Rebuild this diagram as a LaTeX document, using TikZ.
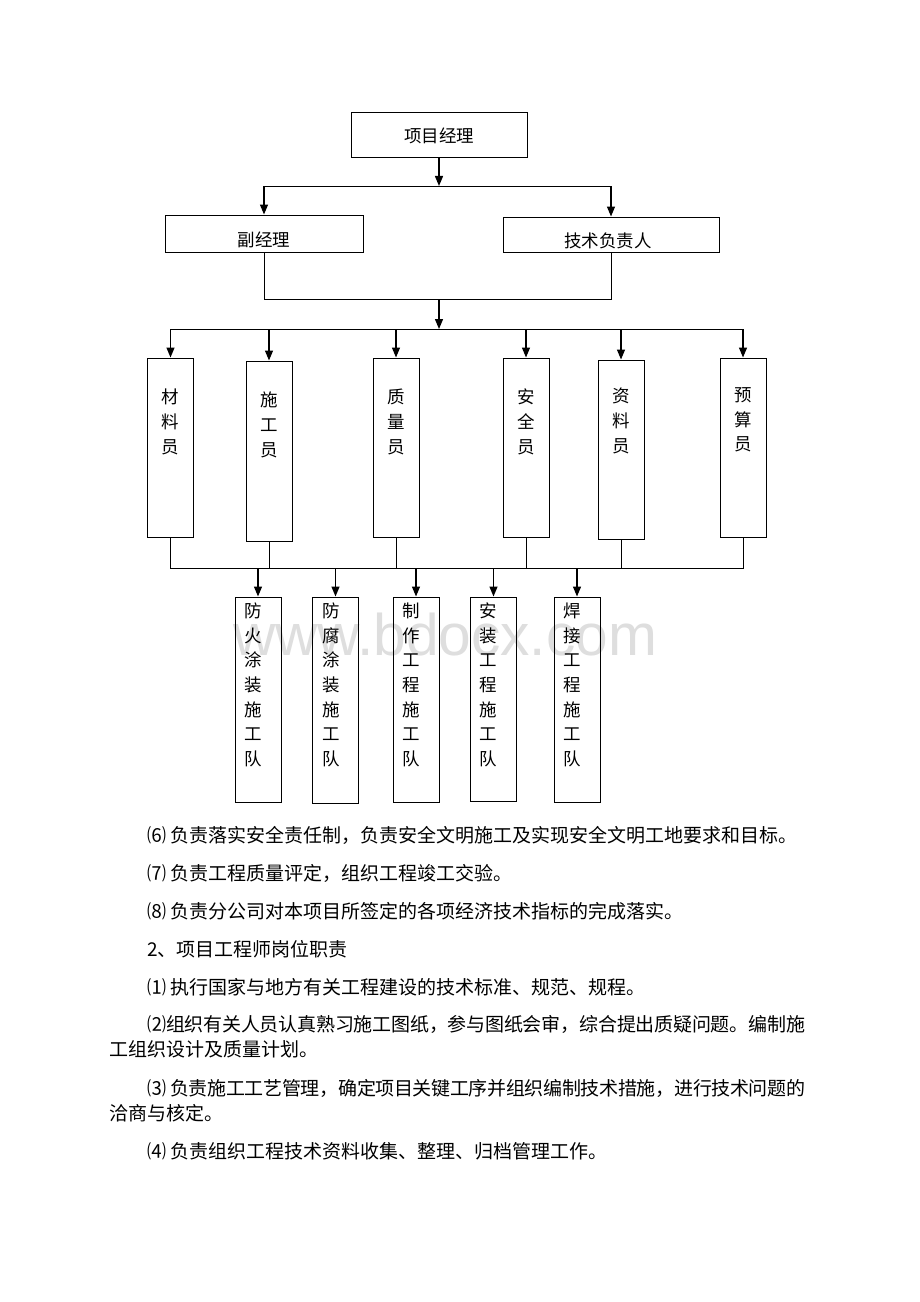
\documentclass[tikz,border=0pt]{standalone}
\usepackage{fontspec}
\setsansfont{Liberation Sans}
\newfontfamily\cjk{Noto Sans CJK SC}
\usetikzlibrary{arrows.meta}
\XeTeXlinebreaklocale "zh"
\XeTeXlinebreakskip=0pt plus 1pt minus 1pt
\def\px{0.75pt}

\begin{document}
\begin{tikzpicture}[x=\px, y=-\px,
    box/.style={draw, line width=0.75pt, inner sep=0pt},
    lbl/.style={inner sep=0pt, font=\cjk\fontsize{13.1}{16}\selectfont},
    vlbl/.style={inner sep=0pt, align=center, font=\cjk\fontsize{13.1}{18.5}\selectfont},
    wire/.style={line width=0.75pt},
    arr/.style={line width=1pt, -{Triangle[width=6pt,length=7.5pt]}},
    para/.style={anchor=north west, inner sep=0pt, text width=696*\px, align=justify,
      font=\cjk\fontsize{14.25}{18.75}\selectfont}]
      \fill[white] (0,0) rectangle (920,1302);
      \useasboundingbox (0,0) rectangle (920,1302);
      \node[anchor=base west, inner sep=0pt, text=black!13, font=\sffamily\fontsize{44}{44}\selectfont] (mark) at (233,655) {www.bdocx.com};
      \node[box, minimum width=176*\px, minimum height=45*\px] (pm) at (439,135.5) {};
      \node[lbl] (pm-t) at (439,136) {项目经理};
      \node[box, minimum width=198*\px, minimum height=37*\px] (dep) at (264,233.5) {};
      \node[lbl] (dep-t) at (264,240) {副经理};
      \node[box, minimum width=216*\px, minimum height=35*\px] (tech) at (611,234.5) {};
      \node[lbl] (tech-t) at (608,241) {技术负责人};
      \node[box, minimum width=46*\px, minimum height=179*\px] (s1) at (170.5,447.5) {};
      \node[vlbl] (s1-t) at (170.5,422) {材\\料\\员};
      \node[box, minimum width=46*\px, minimum height=180*\px] (s2) at (269,451) {};
      \node[vlbl] (s2-t) at (269,425) {施\\工\\员};
      \node[box, minimum width=46*\px, minimum height=179*\px] (s3) at (396,447.5) {};
      \node[vlbl] (s3-t) at (396,422) {质\\量\\员};
      \node[box, minimum width=46*\px, minimum height=179*\px] (s4) at (526,447.5) {};
      \node[vlbl] (s4-t) at (526,422) {安\\全\\员};
      \node[box, minimum width=46*\px, minimum height=179*\px] (s5) at (621,449.5) {};
      \node[vlbl] (s5-t) at (621,421) {资\\料\\员};
      \node[box, minimum width=46*\px, minimum height=179*\px] (s6) at (743,447.5) {};
      \node[vlbl] (s6-t) at (743,420) {预\\算\\员};
      \node[box, minimum width=46*\px, minimum height=205*\px] (t1) at (258,699.5) {};
      \node[vlbl] (t1-t) at (253,685) {防\\火\\涂\\装\\施\\工\\队};
      \node[box, minimum width=46*\px, minimum height=206*\px] (t2) at (335.5,700) {};
      \node[vlbl] (t2-t) at (331,685) {防\\腐\\涂\\装\\施\\工\\队};
      \node[box, minimum width=46*\px, minimum height=205*\px] (t3) at (416,699.5) {};
      \node[vlbl] (t3-t) at (411,685) {制\\作\\工\\程\\施\\工\\队};
      \node[box, minimum width=46*\px, minimum height=204*\px] (t4) at (493.5,699) {};
      \node[vlbl] (t4-t) at (488,685) {安\\装\\工\\程\\施\\工\\队};
      \node[box, minimum width=46*\px, minimum height=205*\px] (t5) at (577,699.5) {};
      \node[vlbl] (t5-t) at (572,685) {焊\\接\\工\\程\\施\\工\\队};
      \coordinate (j1) at (439,186);
      \coordinate (j2) at (439,299);
      \coordinate (j3) at (439,329);
      \coordinate (j4) at (439,568);
      \draw[arr] (pm.south) -- (j1);
      \draw[wire] (dep.north |- j1) -- (tech.north |- j1);
      \draw[arr] (dep.north |- j1) -- (dep.north);
      \draw[arr] (tech.north |- j1) -- (tech.north);
      \draw[wire] (dep.south) -- (dep.south |- j2) -- (tech.south |- j2) -- (tech.south);
      \draw[arr] (j2) -- (j3);
      \draw[wire] (s1.north |- j3) -- (s6.north |- j3);
      \draw[arr] (s1.north |- j3) -- (s1.north);
      \draw[arr] (s2.north |- j3) -- (s2.north);
      \draw[arr] (s3.north |- j3) -- (s3.north);
      \draw[arr] (s4.north |- j3) -- (s4.north);
      \draw[arr] (s5.north |- j3) -- (s5.north);
      \draw[arr] (s6.north |- j3) -- (s6.north);
      \draw[wire] (s1.south) -- (s1.south |- j4) -- (s6.south |- j4) -- (s6.south);
      \draw[wire] (s2.south) -- (s2.south |- j4);
      \draw[wire] (s3.south) -- (s3.south |- j4);
      \draw[wire] (s4.south) -- (s4.south |- j4);
      \draw[wire] (s5.south) -- (s5.south |- j4);
      \draw[arr] (t1.north |- j4) -- (t1.north);
      \draw[arr] (t2.north |- j4) -- (t2.north);
      \draw[arr] (t3.north |- j4) -- (t3.north);
      \draw[arr] (t4.north |- j4) -- (t4.north);
      \draw[arr] (t5.north |- j4) -- (t5.north);
      \node[para] (p6) at (109,826) {\hspace*{2em}⑹ 负责落实安全责任制，负责安全文明施工及实现安全文明工地要求和目标。};
      \node[para] (p7) at (109,864) {\hspace*{2em}⑺ 负责工程质量评定，组织工程竣工交验。};
      \node[para] (p8) at (109,902) {\hspace*{2em}⑻ 负责分公司对本项目所签定的各项经济技术指标的完成落实。};
      \node[para] (h2) at (109,940) {\hspace*{2em}2、项目工程师岗位职责};
      \node[para] (q1) at (109,978) {\hspace*{2em}⑴ 执行国家与地方有关工程建设的技术标准、规范、规程。};
      \node[para] (q2) at (109,1015) {\hspace*{2em}⑵组织有关人员认真熟习施工图纸，参与图纸会审，综合提出质疑问题。编制施\linebreak 工组织设计及质量计划。};
      \node[para] (q3) at (109,1079) {\hspace*{2em}⑶ 负责施工工艺管理，确定项目关键工序并组织编制技术措施，进行技术问题的\linebreak 洽商与核定。};
      \node[para] (q4) at (109,1142) {\hspace*{2em}⑷ 负责组织工程技术资料收集、整理、归档管理工作。};
    \end{tikzpicture}
\end{document}
